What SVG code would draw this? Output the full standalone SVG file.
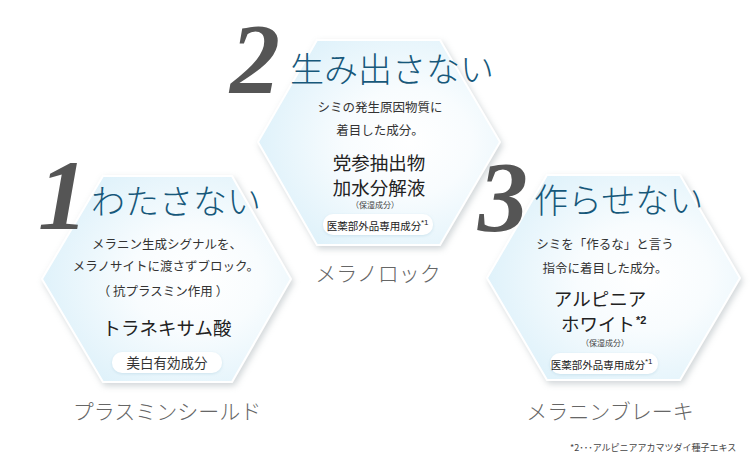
<svg xmlns="http://www.w3.org/2000/svg" width="750" height="458" viewBox="0 0 750 458">
<defs>
<radialGradient id="hg" cx="0.62" cy="0.5" r="0.75">
<stop offset="0" stop-color="#ffffff"/>
<stop offset="0.35" stop-color="#f8fcfe"/>
<stop offset="1" stop-color="#d6eef9"/>
</radialGradient>
<filter id="sh" x="-10%" y="-10%" width="125%" height="125%">
<feDropShadow dx="2" dy="3" stdDeviation="3" flood-color="#9aa4aa" flood-opacity="0.45"/>
</filter>
<filter id="bs" x="-10%" y="-20%" width="120%" height="150%">
<feDropShadow dx="0" dy="1" stdDeviation="1.5" flood-color="#b8d6e4" flood-opacity="0.6"/>
</filter>
</defs>
<style>
.hex{fill:url(#hg);stroke:#ffffff;stroke-width:2;filter:url(#sh)}
.num{font-family:"Liberation Serif",serif;font-style:italic;font-weight:bold;fill:#555555;font-size:100px}
.ttl{font-family:"Noto Sans CJK JP",sans-serif;font-weight:300;fill:#17587a;font-size:34px}
.body{font-family:"Noto Sans CJK JP",sans-serif;fill:#333333;font-size:12.5px;text-anchor:middle}
.big{font-family:"Noto Sans CJK JP",sans-serif;fill:#222222;font-size:18.5px;text-anchor:middle}
.tiny{font-family:"Noto Sans CJK JP",sans-serif;fill:#444444;font-size:8px;text-anchor:middle}
.badge{fill:#ffffff;filter:url(#bs)}
.btxt{font-family:"Noto Sans CJK JP",sans-serif;fill:#222222;font-size:10.5px;text-anchor:middle}
.sup{font-family:"Liberation Sans",sans-serif;font-size:8px;fill:#222222}
.lbl{font-family:"Noto Sans CJK JP",sans-serif;font-weight:300;fill:#666666;font-size:21px;text-anchor:middle}
.note{font-family:"Noto Sans CJK JP",sans-serif;fill:#444444;font-size:9px}
</style>

<g id="node-2">
<polygon class="hex" points="317,40 440,40 500,142 440,245 317,245 258,142"/>
<text class="num" x="230" y="92">2</text>
<text class="ttl" x="290" y="82">生み出さない</text>
<text class="body" x="380" y="112">シミの発生原因物質に</text>
<text class="body" x="380" y="135">着目した成分。</text>
<text class="big" x="379" y="170">党参抽出物</text>
<text class="big" x="379" y="195">加水分解液</text>
<text class="tiny" x="375" y="208">（保湿成分）</text>
<rect class="badge" x="323" y="214" width="110" height="21" rx="10"/>
<text class="btxt" x="374" y="229.5">医薬部外品専用成分</text>
<text class="sup" x="421" y="225">*1</text>
<text class="lbl" x="378" y="281">メラノロック</text>
</g>

<g id="node-1">
<polygon class="hex" points="103,176 232,176 291,279 232,382 103,382 42,279"/>
<text class="num" x="38" y="229">1</text>
<text class="ttl" x="91" y="214">わたさない</text>
<text class="body" x="167" y="249">メラニン生成シグナルを、</text>
<text class="body" x="166" y="271">メラノサイトに渡さずブロック。</text>
<text class="body" x="163" y="296">（ 抗プラスミン作用 ）</text>
<text class="big" x="167" y="335">トラネキサム酸</text>
<rect class="badge" x="112" y="352" width="110" height="21" rx="10"/>
<text class="body" x="167" y="368" style="font-size:13.5px">美白有効成分</text>
<text class="lbl" x="167" y="419">プラスミンシールド</text>
</g>

<g id="node-3">
<polygon class="hex" points="547,175 680,175 740,278 680,380 547,380 487,278"/>
<text class="num" x="478" y="230">3</text>
<text class="ttl" x="534" y="213">作らせない</text>
<text class="body" x="605" y="249">シミを「作るな」と言う</text>
<text class="body" x="605" y="273">指令に着目した成分。</text>
<text class="big" x="600" y="306">アルピニア</text>
<text class="big" x="598" y="331">ホワイト</text>
<text class="sup" x="636" y="324" style="font-size:11px;font-weight:bold">*2</text>
<text class="tiny" x="605" y="346">（保湿成分）</text>
<rect class="badge" x="550" y="353" width="108" height="21" rx="10"/>
<text class="btxt" x="598" y="369">医薬部外品専用成分</text>
<text class="sup" x="645" y="364">*1</text>
<text class="lbl" x="610" y="419">メラニンブレーキ</text>
</g>

<g id="connectors"></g>

<text class="note" x="570" y="451">*2･･･アルピニアアカマツダイ種子エキス</text>
</svg>
